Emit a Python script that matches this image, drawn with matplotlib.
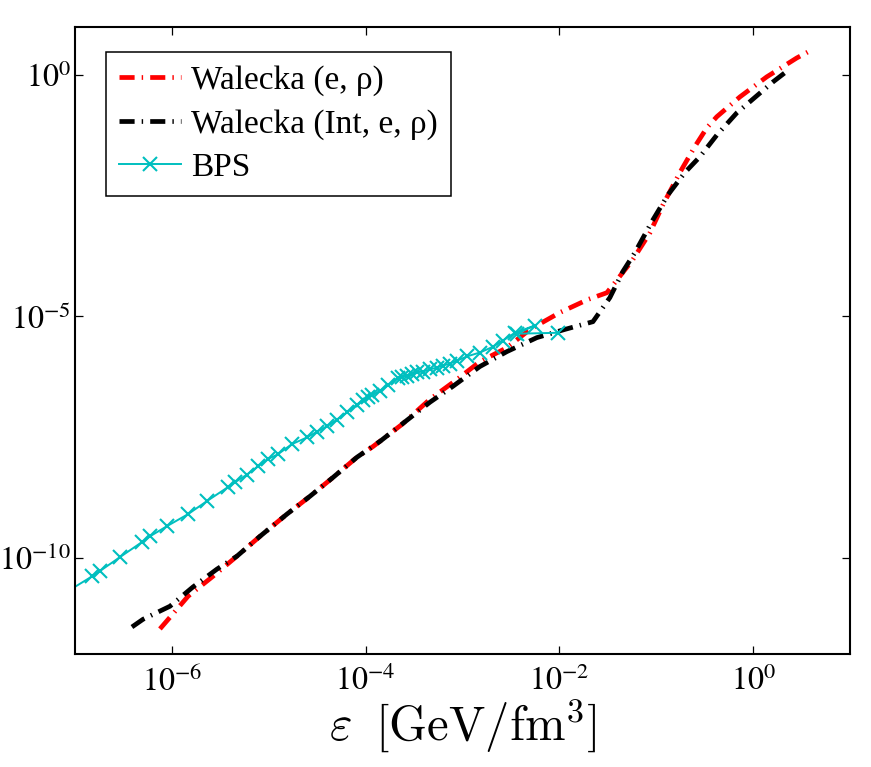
import math
import matplotlib
matplotlib.use("Agg")
import matplotlib.pyplot as plt
from matplotlib.ticker import FixedLocator, FuncFormatter, NullLocator

# ---- data ----
red_x = [7.53e-7, 9.55e-7, 1.47e-6, 2.65e-6, 4.70e-6, 8.11e-6, 1.54e-5, 2.66e-5,
         4.60e-5, 8.13e-5, 1.19e-4, 2.37e-4, 4.61e-4, 8.75e-4, 1.51e-3, 2.87e-3,
         4.97e-3, 1.01e-2, 1.97e-2, 3.09e-2, 3.74e-2, 5.74e-2, 8.59e-2, 0.117,
         0.175, 0.250, 0.333, 0.422, 0.730, 1.38, 2.82, 3.67]
red_y = [3.31e-12, 5.75e-12, 1.58e-11, 4.07e-11, 1.07e-10, 2.75e-10, 7.94e-10, 1.86e-9,
         4.57e-9, 1.20e-8, 2.00e-8, 5.75e-8, 1.91e-7, 4.90e-7, 1.15e-6, 2.24e-6,
         5.37e-6, 1.20e-5, 2.24e-5, 3.09e-5, 5.01e-5, 1.51e-4, 5.37e-4, 2.04e-3,
         9.55e-3, 3.31e-2, 8.13e-2, 0.138, 0.355, 0.923, 2.28, 3.03]

black_x = [3.87e-7, 5.04e-7, 9.55e-7, 1.65e-6, 2.92e-6, 4.70e-6, 8.11e-6, 1.54e-5,
           2.66e-5, 4.60e-5, 8.13e-5, 1.41e-4, 4.61e-4, 7.96e-4, 1.51e-3, 2.87e-3,
           5.86e-3, 1.14e-2, 2.22e-2, 3.32e-2, 4.52e-2, 6.01e-2, 9.23e-2, 0.132,
           0.197, 0.282, 0.422, 0.679, 0.925, 1.60, 2.12]
black_y = [3.63e-12, 5.25e-12, 9.77e-12, 2.45e-11, 5.75e-11, 1.07e-10, 2.75e-10, 7.94e-10,
           1.86e-9, 4.57e-9, 1.20e-8, 2.57e-8, 1.66e-7, 3.55e-7, 9.12e-7, 1.86e-6,
           3.63e-6, 5.37e-6, 7.76e-6, 2.45e-5, 8.51e-5, 2.09e-4, 1.00e-3, 3.31e-3,
           9.55e-3, 2.04e-2, 5.75e-2, 0.166, 0.282, 0.724, 1.12]

bps_x = [7.08e-8, 1.50e-7, 1.81e-7, 2.91e-7, 4.91e-7, 5.94e-7, 8.89e-7, 1.47e-6,
         2.30e-6, 3.79e-6, 4.48e-6, 5.96e-6, 7.74e-6, 9.82e-6, 1.24e-5, 1.73e-5,
         2.48e-5, 3.14e-5, 3.99e-5, 5.06e-5, 6.41e-5, 8.13e-5, 9.37e-5, 1.06e-4,
         1.16e-4, 1.41e-4, 1.70e-4, 2.15e-4, 2.37e-4, 2.67e-4, 3.01e-4, 3.38e-4,
         3.90e-4, 4.61e-4, 5.45e-4, 6.28e-4, 7.41e-4, 8.75e-4, 1.11e-3, 1.51e-3,
         2.06e-3, 2.61e-3, 3.48e-3, 5.58e-3, 3.64e-3, 9.66e-3]
bps_y = [1.62e-11, 4.07e-11, 5.25e-11, 1.02e-10, 2.09e-10, 2.75e-10, 4.47e-10, 7.94e-10,
         1.48e-9, 2.88e-9, 3.63e-9, 5.25e-9, 7.76e-9, 1.10e-8, 1.38e-8, 2.24e-8,
         3.09e-8, 4.07e-8, 5.25e-8, 7.24e-8, 1.02e-7, 1.48e-7, 1.82e-7, 2.09e-7,
         2.29e-7, 2.88e-7, 3.72e-7, 5.37e-7, 5.62e-7, 5.89e-7, 6.38e-7, 6.92e-7,
         7.19e-7, 7.94e-7, 8.71e-7, 9.55e-7, 1.05e-6, 1.20e-6, 1.48e-6, 1.78e-6,
         2.34e-6, 3.16e-6, 4.57e-6, 6.46e-6, 4.37e-6, 4.57e-6]

labels = ["Walecka (e, ρ)", "Walecka (Int, e, ρ)", "BPS"]
xticks = [1e-6, 1e-4, 1e-2, 1e0]
yticks = [1e-10, 1e-5, 1e0]

# ---- style ----
plt.rcParams["mathtext.fontset"] = "stix"
plt.rcParams["font.family"] = ["Liberation Serif", "DejaVu Serif"]

fig = plt.figure(figsize=(8.71, 7.67), dpi=100)
ax = fig.add_axes([75 / 871, 113 / 767, 775 / 871, 627 / 767])

dash = (3.2, 1.5, 0.3, 1.5)
ax.plot(red_x, red_y, color="#ff0000", lw=3.4, dashes=dash, label=labels[0],
        dash_capstyle="butt")
ax.plot(black_x, black_y, color="black", lw=3.4, dashes=dash, label=labels[1],
        dash_capstyle="butt")
ax.plot(bps_x, bps_y, color="#00bfbf", lw=1.4, marker="x", ms=9.5, mew=1.5,
        label=labels[2])

ax.set_xscale("log")
ax.set_yscale("log")
ax.set_xlim(1e-7, 1e1)
ax.set_ylim(1e-12, 1e1)

ax.xaxis.set_major_locator(FixedLocator(xticks))
ax.yaxis.set_major_locator(FixedLocator(yticks))
ax.xaxis.set_minor_locator(NullLocator())
ax.yaxis.set_minor_locator(NullLocator())
fmt = FuncFormatter(lambda v, p: r"$10^{%d}$" % round(math.log10(v)))
ax.xaxis.set_major_formatter(fmt)
ax.yaxis.set_major_formatter(fmt)

ax.tick_params(which="both", direction="in", top=True, right=True,
               length=6, width=0.9, labelsize=23)
ax.tick_params(axis="x", pad=9)
ax.tick_params(axis="y", pad=3)
for s in ax.spines.values():
    s.set_linewidth(1.5)

ax.set_xlabel(r"$\varepsilon\;\;[\mathrm{GeV/fm}^3]$", fontsize=35,
              math_fontfamily="cm", labelpad=0)

leg = ax.legend(loc="upper left", bbox_to_anchor=((106 - 75) / 775, (654 - 52) / 627),
                borderaxespad=0, fontsize=24, handlelength=1.85, handletextpad=0.3,
                labelspacing=0.38, borderpad=0.4, fancybox=False, framealpha=1,
                edgecolor="black")
leg.get_frame().set_linewidth(1.1)

fig.savefig("out.png", dpi=100)
